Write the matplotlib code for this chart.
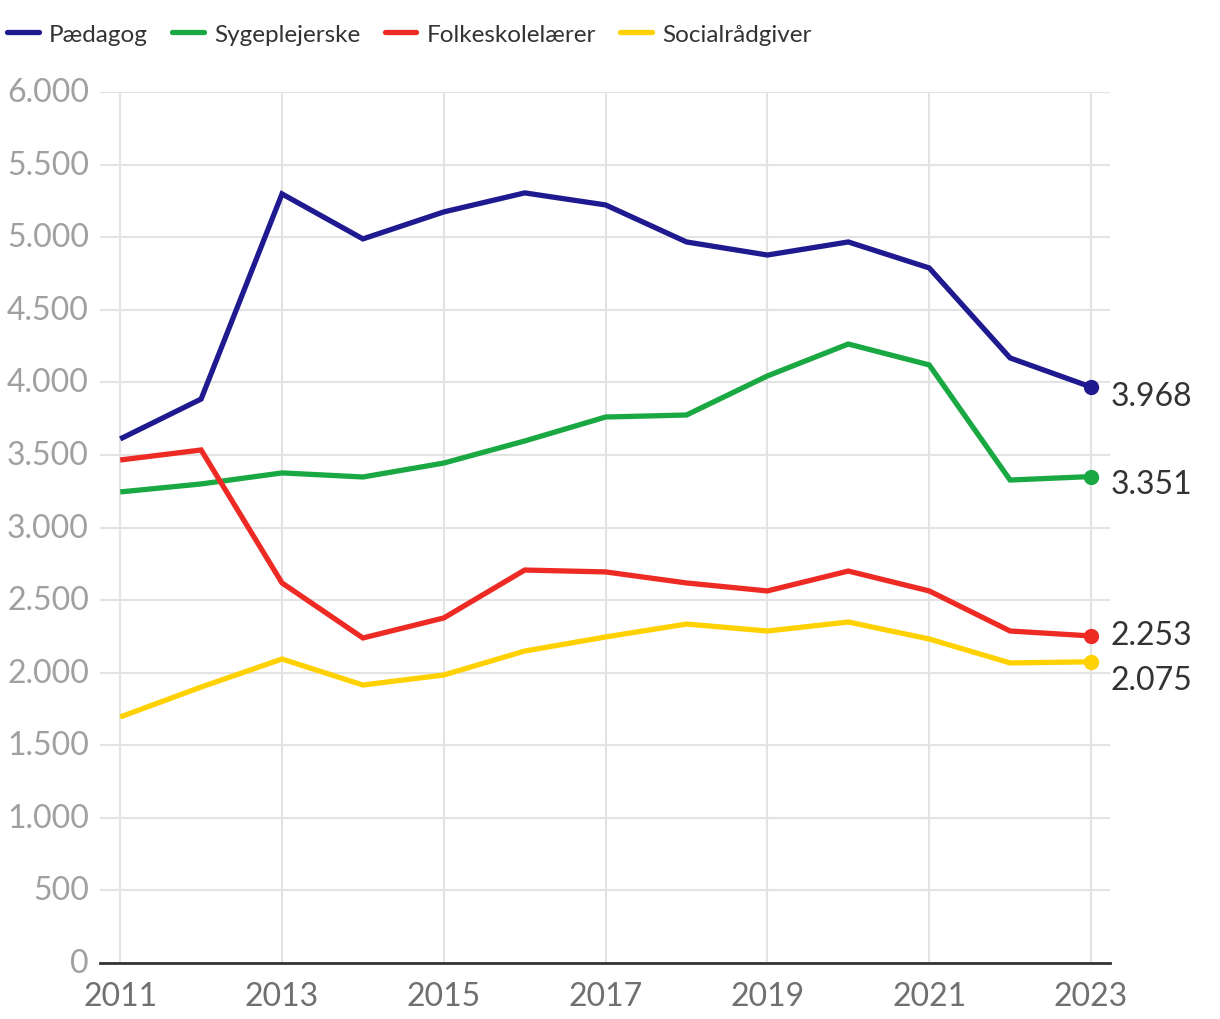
import matplotlib.pyplot as plt
from matplotlib.ticker import FuncFormatter

years = list(range(2011, 2024))
paedagog = [3610, 3885, 5298, 4988, 5174, 5305, 5222, 4967, 4877, 4967, 4788, 4168, 3968]
sygeplejerske = [3245, 3300, 3376, 3348, 3444, 3596, 3761, 3775, 4044, 4264, 4120, 3327, 3351]
folkeskolelaerer = [3465, 3534, 2618, 2239, 2377, 2707, 2694, 2618, 2563, 2700, 2563, 2287, 2253]
socialraadgiver = [1695, 1901, 2094, 1915, 1984, 2149, 2246, 2335, 2287, 2349, 2232, 2067, 2075]
tick_years = list(range(2011, 2024, 2))

names = ['Pædagog', 'Sygeplejerske', 'Folkeskolelærer', 'Socialrådgiver']
colors = ['#1f1a8f', '#1aa843', '#ee2a24', '#ffd100']
series = [paedagog, sygeplejerske, folkeskolelaerer, socialraadgiver]
# vertical offset (px) of end labels relative to the last point
label_offsets = [-9, -7, 1, -18]

plt.rcParams['font.family'] = ['Lato', 'DejaVu Sans']

fig = plt.figure(figsize=(12.2, 10.2), dpi=100)
ax = fig.add_axes([100 / 1220, 1 - 964 / 1020, 1010 / 1220, 871 / 1020])

for name, color, values, off in zip(names, colors, series, label_offsets):
    ax.plot(years, values, color=color, lw=3.8, label=name,
            solid_capstyle='butt', solid_joinstyle='miter', zorder=3)
    ax.plot(years[-1], values[-1], 'o', color=color, ms=10, zorder=4)
    ax.annotate(f'{values[-1]:,}'.replace(',', '.'), (years[-1], values[-1]),
                xytext=(14, off * 0.72), textcoords='offset points',
                ha='left', va='center', fontsize=23, color='#333333')

ax.set_xlim(2010.75, 2023.235)
ax.set_ylim(0, 6000)
ax.set_yticks(range(0, 6001, 500))
ax.yaxis.set_major_formatter(FuncFormatter(lambda v, p: f'{int(v):,}'.replace(',', '.')))
ax.set_xticks(tick_years)
ax.set_xticklabels([str(y) for y in tick_years])

ax.grid(True, color='#e3e3e3', lw=1.5, zorder=0)
ax.set_axisbelow(True)
for s in ['top', 'right', 'left']:
    ax.spines[s].set_visible(False)
ax.spines['bottom'].set_color('#333333')
ax.spines['bottom'].set_linewidth(2)
ax.tick_params(axis='y', length=0, pad=8, labelsize=23, labelcolor='#a0a0a0')
ax.tick_params(axis='x', length=0, pad=13, labelsize=23, labelcolor='#707070')
for lbl in ax.get_yticklabels():
    lbl.set_verticalalignment('center')

leg = fig.legend(loc='upper left', bbox_to_anchor=(0.0, 0.983), ncol=4, frameon=False,
                 fontsize=17.5, handlelength=1.3, handletextpad=0.42, columnspacing=1.0,
                 labelcolor='#333333', borderaxespad=0.0, borderpad=0.3)
for h in leg.legend_handles:
    h.set_solid_capstyle('round')

fig.savefig('out.png', dpi=100)
